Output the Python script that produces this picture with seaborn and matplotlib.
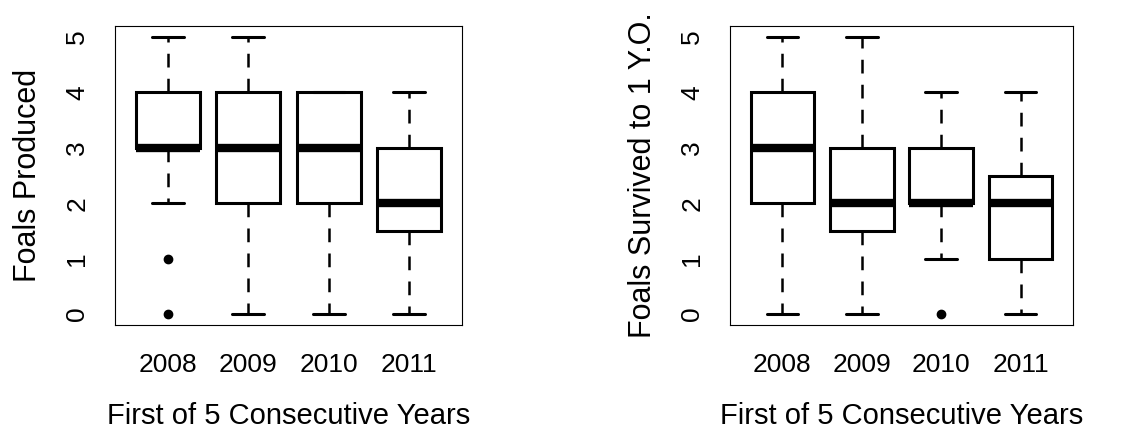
import pandas as pd
import matplotlib
matplotlib.use('Agg')
import matplotlib.pyplot as plt
import seaborn as sns

# Raw counts per mare, grouped by first year of the 5-year window
years = ['2008', '2009', '2010', '2011']

produced_2008 = [0, 1, 2, 3, 3, 3, 3, 3, 3, 3, 4, 4, 4, 4, 4, 4, 5]
produced_2009 = [0, 1, 2, 3, 3, 3, 4, 4, 5]
produced_2010 = [0, 1, 2, 2, 3, 4, 4, 4, 4]
produced_2011 = [0, 1, 1, 2, 2, 2, 2, 3, 3, 4, 4]

survived_2008 = [0, 1, 2, 3, 3, 3, 4, 4, 5]
survived_2009 = [0, 1, 1, 2, 2, 2, 2, 3, 3, 4, 5]
survived_2010 = [0, 1, 2, 2, 2, 2, 3, 3, 4]
survived_2011 = [0, 1, 1, 1, 2, 2, 2, 2, 3, 3, 4]

y_ticks = [0, 1, 2, 3, 4, 5]


def to_long(groups):
    rows = []
    for yr, vals in zip(years, groups):
        for v in vals:
            rows.append({'year': yr, 'foals': v})
    return pd.DataFrame(rows)


df_prod = to_long([produced_2008, produced_2009, produced_2010, produced_2011])
df_surv = to_long([survived_2008, survived_2009, survived_2010, survived_2011])

sns.set_style('white')
plt.rcParams['font.family'] = ['Liberation Sans', 'DejaVu Sans']
plt.rcParams['text.color'] = 'black'
plt.rcParams['axes.labelcolor'] = 'black'

fig = plt.figure(figsize=(11.3, 4.34), dpi=100)
ax1 = fig.add_axes([115 / 1130, 1 - 325 / 434, 347 / 1130, 299 / 434])
ax2 = fig.add_axes([730 / 1130, 1 - 325 / 434, 343 / 1130, 299 / 434])

box_kw = dict(
    x='year', y='foals', order=years, color='white', linecolor='black',
    width=0.8, linewidth=2.2, saturation=1,
    whiskerprops=dict(linestyle=(0, (5.5, 4.5)), linewidth=1.8),
    capprops=dict(linewidth=2.2),
    medianprops=dict(linewidth=6, solid_capstyle='butt'),
    flierprops=dict(marker='o', markerfacecolor='black', markeredgecolor='black', markersize=6),
)

for ax, df, ylab in [(ax1, df_prod, 'Foals Produced'),
                     (ax2, df_surv, 'Foals Survived to 1 Y.O.')]:
    sns.boxplot(data=df, ax=ax, **box_kw)
    ax.set_xlim(-0.66, 3.66)
    ax.set_ylim(-0.2, 5.2)
    ax.set_yticks(y_ticks)
    ax.set_yticklabels([str(t) for t in y_ticks], rotation=90, va='center')
    ax.tick_params(axis='both', direction='out', length=9.5, width=0.8,
                   labelsize=19, colors='black')
    ax.tick_params(axis='x', pad=11)
    ax.tick_params(axis='y', pad=9)
    ax.set_xlabel('First of 5 Consecutive Years', fontsize=21, labelpad=18)
    ax.set_ylabel(ylab, fontsize=22, labelpad=16)
    for s in ax.spines.values():
        s.set_color('black')
        s.set_linewidth(0.8)

fig.savefig('out.png', dpi=100, facecolor='white')
